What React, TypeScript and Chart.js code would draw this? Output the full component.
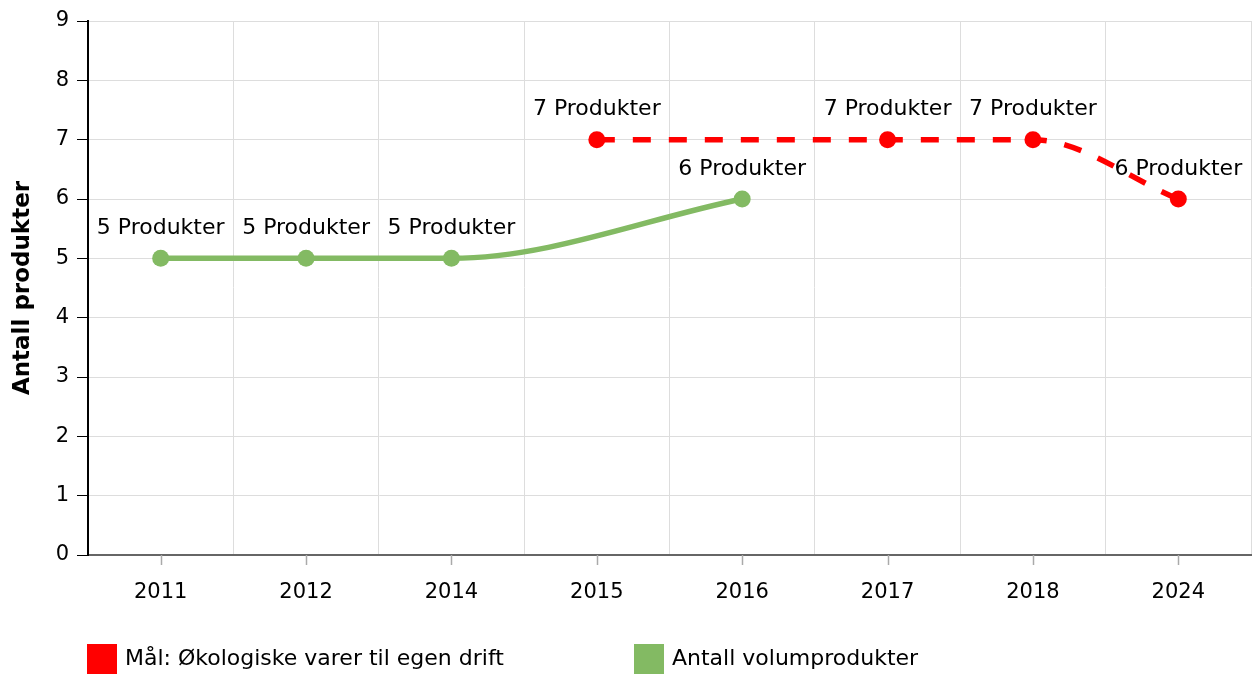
import React, { useEffect, useRef } from "react";
import { Chart, registerables } from "chart.js";

Chart.register(...registerables);

const categories = ["2011", "2012", "2014", "2015", "2016", "2017", "2018", "2024"];
const targetValues: (number | null)[] = [null, null, null, 7, null, 7, 7, 6];
const volumeValues: (number | null)[] = [5, 5, 5, null, 6, null, null, null];
const seriesNames = ["Mål: Økologiske varer til egen drift", "Antall volumprodukter"];
const seriesColors = ["#FF0000", "#83BA63"];
const yTitle = "Antall produkter";
const labelSuffix = " Produkter";

const FONT = "'DejaVu Sans', Verdana, sans-serif";

const dataLabelPlugin = {
  id: "dataLabels",
  afterDatasetsDraw(chart: any) {
    const ctx = chart.ctx;
    ctx.save();
    ctx.font = `22px ${FONT}`;
    ctx.fillStyle = "#000";
    ctx.textAlign = "center";
    ctx.textBaseline = "middle";
    chart.data.datasets.forEach((ds: any, di: number) => {
      const meta = chart.getDatasetMeta(di);
      meta.data.forEach((pt: any, i: number) => {
        const v = ds.data[i];
        if (v === null || v === undefined) return;
        ctx.fillText(`${v}${labelSuffix}`, pt.x, pt.y - 30);
      });
    });
    ctx.restore();
  },
};

const xTickPlugin = {
  id: "xTickMarks",
  afterDraw(chart: any) {
    const ctx = chart.ctx;
    const xs = chart.scales.x;
    const bottom = chart.chartArea.bottom;
    ctx.save();
    ctx.strokeStyle = "#AAAAAA";
    ctx.lineWidth = 1.5;
    categories.forEach((_, i) => {
      const x = Math.round(xs.getPixelForValue(i)) + 0.5;
      ctx.beginPath();
      ctx.moveTo(x, bottom);
      ctx.lineTo(x, bottom + 10);
      ctx.stroke();
    });
    ctx.restore();
  },
};

const legendPlugin = {
  id: "customLegend",
  afterDraw(chart: any) {
    const ctx = chart.ctx;
    const items = [
      { x: 87, text: seriesNames[0], color: seriesColors[0] },
      { x: 634, text: seriesNames[1], color: seriesColors[1] },
    ];
    ctx.save();
    ctx.font = `22px ${FONT}`;
    ctx.textBaseline = "middle";
    ctx.textAlign = "left";
    items.forEach((it) => {
      ctx.fillStyle = it.color;
      ctx.fillRect(it.x, 644, 30, 30);
      ctx.fillStyle = "#000";
      ctx.fillText(it.text, it.x + 38, 659);
    });
    ctx.restore();
  },
};

export default function App() {
  const ref = useRef<HTMLCanvasElement | null>(null);
  useEffect(() => {
    if (!ref.current) return;
    const chart = new Chart(ref.current, {
      type: "line",
      data: {
        labels: categories,
        datasets: [
          {
            label: seriesNames[0],
            data: targetValues,
            borderColor: seriesColors[0],
            backgroundColor: seriesColors[0],
            borderWidth: 5.5,
            borderDash: [18, 18],
            pointRadius: 8.5,
            pointHoverRadius: 8.5,
            pointBorderWidth: 0,
            cubicInterpolationMode: "monotone",
            spanGaps: true,
          },
          {
            label: seriesNames[1],
            data: volumeValues,
            borderColor: seriesColors[1],
            backgroundColor: seriesColors[1],
            borderWidth: 5.5,
            pointRadius: 8.5,
            pointHoverRadius: 8.5,
            pointBorderWidth: 0,
            cubicInterpolationMode: "monotone",
            spanGaps: true,
          },
        ],
      },
      options: {
        animation: false,
        responsive: false,
        maintainAspectRatio: false,
        layout: { autoPadding: false, padding: { top: 21, right: 4, bottom: 45, left: 0 } },
        plugins: {
          legend: { display: false },
          tooltip: { enabled: false },
        },
        scales: {
          x: {
            offset: true,
            grid: {
              offset: true,
              drawTicks: false,
              color: "#DDDDDD",
              lineWidth: 1,
            },
            border: { color: "#666666", width: 2 },
            ticks: {
              color: "#000",
              font: { family: FONT, size: 21 },
              padding: 25,
              maxRotation: 0,
            },
            afterFit(scale: any) {
              scale.height = 75;
              scale.paddingLeft = 0;
              scale.paddingRight = 0;
            },
          },
          y: {
            min: 0,
            max: 9,
            ticks: {
              stepSize: 1,
              color: "#000",
              font: { family: FONT, size: 21 },
              padding: 8,
            },
            grid: {
              color: "#DDDDDD",
              tickColor: "#000",
              tickLength: 11,
              lineWidth: 1,
            },
            border: { color: "#000", width: 2 },
            title: {
              display: true,
              text: yTitle,
              color: "#000",
              font: { family: FONT, size: 23, weight: "bold" },
              padding: { top: 9, bottom: 0 },
            },
            afterFit(scale: any) {
              scale.width = 88;
            },
          },
        },
      },
      plugins: [dataLabelPlugin, xTickPlugin, legendPlugin],
    });
    return () => chart.destroy();
  }, []);
  return (
    <div style={{ position: "fixed", left: 0, top: 0, width: 1255, height: 675, background: "#fff" }}>
      <canvas ref={ref} width={1255} height={675} style={{ width: 1255, height: 675, display: "block" }} />
    </div>
  );
}
